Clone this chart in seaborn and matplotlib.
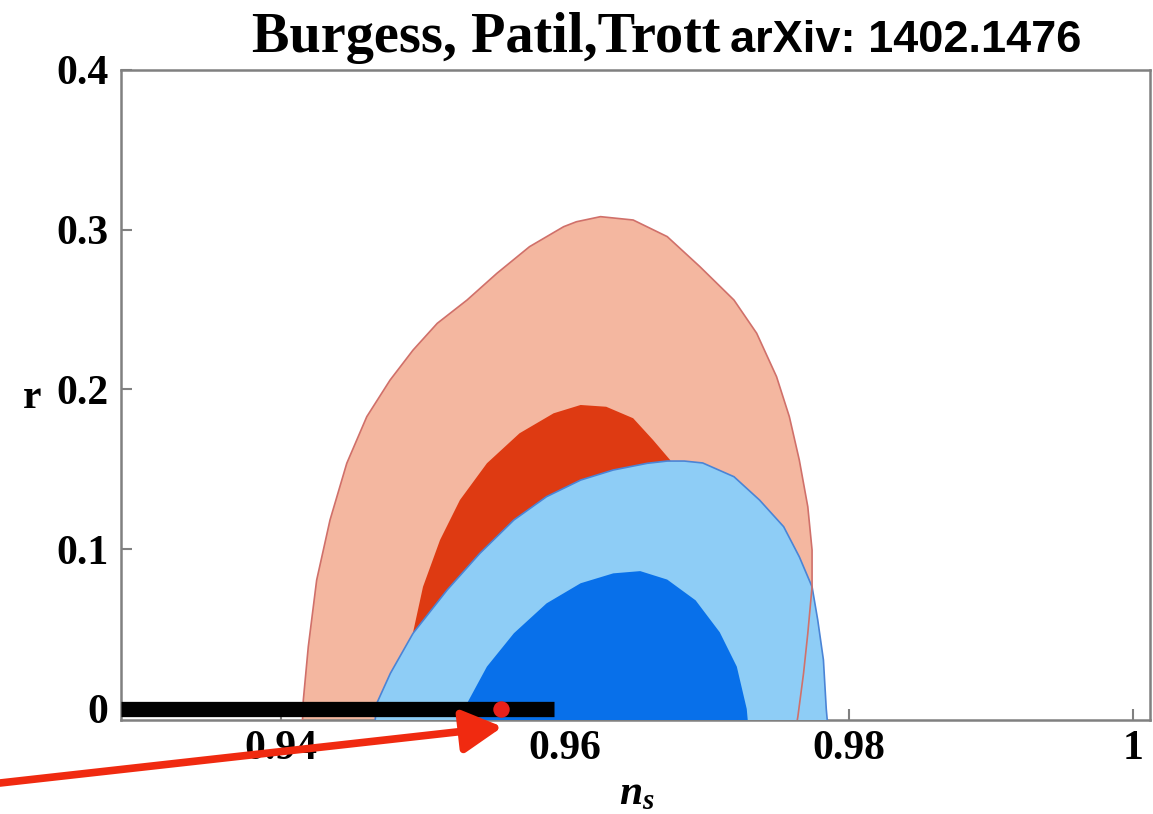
import numpy as np
import pandas as pd
import matplotlib
matplotlib.use("Agg")
import matplotlib.pyplot as plt
import seaborn as sns

# ---------------- data ----------------
# outer (95%) red contour
red95_ns = [0.9415, 0.94157, 0.94192, 0.94251, 0.94345, 0.94463, 0.94604, 0.94768, 0.9493,
            0.9510, 0.9531, 0.9552, 0.9575, 0.9599, 0.9608, 0.9625, 0.9648, 0.9672, 0.9695,
            0.9719, 0.9735, 0.9749, 0.9758, 0.9765, 0.9771, 0.9774, 0.9774, 0.9771, 0.9768,
            0.9764, 0.9763]
red95_r = [-0.01, 0.0056, 0.0390, 0.0807, 0.1183, 0.1538, 0.1830, 0.2059, 0.2247,
           0.2414, 0.2560, 0.2727, 0.2894, 0.3019, 0.3050, 0.3082, 0.3061, 0.2957, 0.2769,
           0.2560, 0.2352, 0.2080, 0.1830, 0.1559, 0.1266, 0.0995, 0.0765, 0.0474, 0.0223,
           -0.0048, -0.01]
# inner (68%) red contour (lower part hidden behind blue)
red68_ns = [0.9493, 0.9500, 0.9512, 0.9526, 0.9545, 0.9568, 0.9592, 0.9611, 0.9629,
            0.9648, 0.9662, 0.9674, 0.9690, 0.9640, 0.9560, 0.9505]
red68_r = [0.0480, 0.0765, 0.1058, 0.1308, 0.1538, 0.1726, 0.1851, 0.1903, 0.1892,
           0.1820, 0.1684, 0.1559, 0.1200, 0.0800, 0.0500, 0.0450]
# outer (95%) blue contour
blue95_ns = [0.9466, 0.94674, 0.9477, 0.9493, 0.9517, 0.9540, 0.9564, 0.9587, 0.9611,
             0.9634, 0.9658, 0.9672, 0.9684, 0.9697, 0.9719, 0.9737, 0.9754, 0.9765,
             0.9774, 0.9778, 0.9782, 0.9784, 0.9785]
blue95_r = [-0.01, 0.0035, 0.0223, 0.0474, 0.0745, 0.0974, 0.1183, 0.1329, 0.1433,
            0.1496, 0.1538, 0.1552, 0.1552, 0.1540, 0.1454, 0.1308, 0.1141, 0.0953,
            0.0765, 0.0557, 0.0307, 0.0, -0.01]
# inner (68%) blue contour
blue68_ns = [0.9530, 0.9531, 0.9545, 0.9564, 0.9587, 0.9611, 0.9634, 0.9653, 0.9672,
             0.9692, 0.9709, 0.9721, 0.9728, 0.9729]
blue68_r = [-0.01, 0.0035, 0.0265, 0.0474, 0.0661, 0.0787, 0.0849, 0.0863, 0.0810,
            0.0680, 0.0480, 0.0265, 0.0, -0.01]
# black prediction bar and red point
bar_ns = [0.9287, 0.9592]
bar_r = [0.0, 0.0]
point_ns = [0.9555]
point_r = [0.0]

xticks = [0.94, 0.96, 0.98, 1.0]
xticklabels = ["0.94", "0.96", "0.98", "1"]
yticks = [0.0, 0.1, 0.2, 0.3, 0.4]
yticklabels = ["0", "0.1", "0.2", "0.3", "0.4"]

# ---------------- style ----------------
sns.set_theme(style="white")
plt.rcParams["font.family"] = ["Liberation Serif", "DejaVu Serif"]
plt.rcParams["text.color"] = "black"
plt.rcParams["mathtext.fontset"] = "custom"
plt.rcParams["mathtext.it"] = "Liberation Serif:italic:bold"
plt.rcParams["mathtext.rm"] = "Liberation Serif:bold"

W, H = 1153, 814
fig = plt.figure(figsize=(W / 100, H / 100), dpi=100)
fig.patch.set_facecolor("white")
ax = fig.add_axes([121 / W, 1 - 720 / H, 1029 / W, 650 / H])
ax.set_facecolor("white")

ax.fill(red95_ns, red95_r, color="#F4B7A0", lw=0, zorder=1)
ax.fill(red68_ns, red68_r, color="#DE3A12", lw=0, zorder=2)
ax.fill(blue95_ns, blue95_r, facecolor="#8ECDF6", edgecolor="#4A84D6", lw=1.2, zorder=3)
ax.fill(blue68_ns, blue68_r, color="#0870EA", lw=0, zorder=4)
ax.plot(red95_ns, red95_r, color="#D0706A", lw=1.2, zorder=5)

bar_df = pd.DataFrame({"ns": bar_ns, "r": bar_r})
sns.lineplot(data=bar_df, x="ns", y="r", color="black", lw=11, ax=ax, zorder=6,
             solid_capstyle="butt")
pt_df = pd.DataFrame({"ns": point_ns, "r": point_r})
sns.scatterplot(data=pt_df, x="ns", y="r", color="#E8201A", s=140, linewidth=0, ax=ax, zorder=7)

ax.set_xlim(0.92873, 1.0012)
ax.set_ylim(-0.0069, 0.4)
ax.set_xticks(xticks)
ax.set_xticklabels(xticklabels, fontsize=30, fontweight="bold", color="black")
ax.set_yticks(yticks)
ax.set_yticklabels(yticklabels, fontsize=30, fontweight="bold", color="black")
ax.tick_params(axis="both", direction="in", length=8, width=1.5, color="#808080",
               bottom=True, left=True, top=False, right=False)
ax.tick_params(axis="x", pad=7)
ax.tick_params(axis="y", pad=9)
for sp in ax.spines.values():
    sp.set_color("#808080")
    sp.set_linewidth(1.8)
ax.set_xlabel("")
ax.set_ylabel("r", rotation=0, fontsize=30, fontweight="bold", va="center", ha="center",
              color="black")
ax.yaxis.set_label_coords(-0.0865, 0.495)

fig.text(637 / W, 1 - 804 / H, r"$n_s$", fontsize=30, ha="center", va="baseline",
         color="black")

fig.text(252 / W, 1 - 52 / H, "Burgess, Patil,Trott", fontsize=40.5, fontweight="bold",
         family="Liberation Serif", ha="left", va="baseline", color="black")
fig.text(730 / W, 1 - 52 / H, "arXiv: 1402.1476", fontsize=32.5, fontweight="bold",
         family="Liberation Sans", ha="left", va="baseline", color="black")

ax.annotate("", xy=(0.9556, -0.0112), xycoords="data",
            xytext=(0.0, 1 - 783 / H), textcoords="figure fraction",
            arrowprops=dict(arrowstyle="-|>,head_length=1.2,head_width=0.65",
                            color="#F02A10", lw=5.5, mutation_scale=20,
                            shrinkA=0, shrinkB=0),
            annotation_clip=False, zorder=10)

fig.savefig("out.png", dpi=100, facecolor="white")
